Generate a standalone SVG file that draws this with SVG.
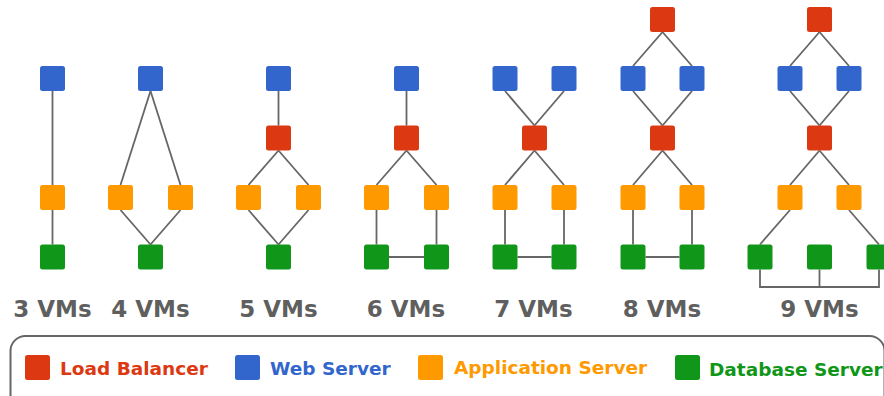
<svg xmlns="http://www.w3.org/2000/svg" width="884" height="396" viewBox="0 0 884 396">
<defs>
<style>
.lb{fill:#dc3912}.ws{fill:#3366cc}.as{fill:#ff9900}.db{fill:#109618}
.e{stroke:#666;stroke-width:1.8;fill:none}
.cap{font-family:"DejaVu Sans",sans-serif;font-weight:bold;font-size:23px;fill:#5f5f5f;text-anchor:middle}
.lg{font-family:"DejaVu Sans",sans-serif;font-weight:bold;font-size:18.5px}
</style>
<rect id="sq" width="25" height="25" rx="2.5"/>
</defs>
<rect width="884" height="396" fill="#fff"/>
<g id="connectors" class="e">
<line x1="52.5" y1="91" x2="52.5" y2="185"/>
<line x1="52.5" y1="210" x2="52.5" y2="244.5"/>
<line x1="150.5" y1="91" x2="120.5" y2="185"/>
<line x1="150.5" y1="91" x2="180.5" y2="185"/>
<line x1="120.5" y1="210" x2="150.5" y2="244.5"/>
<line x1="180.5" y1="210" x2="150.5" y2="244.5"/>
<line x1="278.5" y1="91" x2="278.5" y2="125.5"/>
<line x1="278.5" y1="150.5" x2="248.5" y2="185"/>
<line x1="278.5" y1="150.5" x2="308.5" y2="185"/>
<line x1="248.5" y1="210" x2="278.5" y2="244.5"/>
<line x1="308.5" y1="210" x2="278.5" y2="244.5"/>
<line x1="406.5" y1="91" x2="406.5" y2="125.5"/>
<line x1="406.5" y1="150.5" x2="376.5" y2="185"/>
<line x1="406.5" y1="150.5" x2="436.5" y2="185"/>
<line x1="376.5" y1="210" x2="376.5" y2="244.5"/>
<line x1="436.5" y1="210" x2="436.5" y2="244.5"/>
<line x1="389" y1="257" x2="424" y2="257"/>
<line x1="505" y1="91" x2="534.5" y2="125.5"/>
<line x1="564" y1="91" x2="534.5" y2="125.5"/>
<line x1="534.5" y1="150.5" x2="505" y2="185"/>
<line x1="534.5" y1="150.5" x2="564" y2="185"/>
<line x1="505" y1="210" x2="505" y2="244.5"/>
<line x1="564" y1="210" x2="564" y2="244.5"/>
<line x1="517.5" y1="257" x2="551.5" y2="257"/>
<line x1="662.5" y1="32" x2="633" y2="66"/>
<line x1="662.5" y1="32" x2="692" y2="66"/>
<line x1="633" y1="91" x2="662.5" y2="125.5"/>
<line x1="692" y1="91" x2="662.5" y2="125.5"/>
<line x1="662.5" y1="150.5" x2="633" y2="185"/>
<line x1="662.5" y1="150.5" x2="692" y2="185"/>
<line x1="633" y1="210" x2="633" y2="244.5"/>
<line x1="692" y1="210" x2="692" y2="244.5"/>
<line x1="645.5" y1="257" x2="679.5" y2="257"/>
<line x1="819.5" y1="32" x2="790" y2="66"/>
<line x1="819.5" y1="32" x2="849" y2="66"/>
<line x1="790" y1="91" x2="819.5" y2="125.5"/>
<line x1="849" y1="91" x2="819.5" y2="125.5"/>
<line x1="819.5" y1="150.5" x2="790" y2="185"/>
<line x1="819.5" y1="150.5" x2="849" y2="185"/>
<line x1="790" y1="210" x2="760" y2="244.5"/>
<line x1="849" y1="210" x2="879" y2="244.5"/>
<path d="M760 269.5V287H879V269.5M819.5 269.5V287"/>
</g>
<g id="vm3">
<use href="#sq" class="ws" x="40" y="66"/>
<use href="#sq" class="as" x="40" y="185"/>
<use href="#sq" class="db" x="40" y="244.5"/>
<text class="cap" x="52.5" y="317">3 VMs</text>
</g>
<g id="vm4">
<use href="#sq" class="ws" x="138" y="66"/>
<use href="#sq" class="as" x="108" y="185"/>
<use href="#sq" class="as" x="168" y="185"/>
<use href="#sq" class="db" x="138" y="244.5"/>
<text class="cap" x="150.5" y="317">4 VMs</text>
</g>
<g id="vm5">
<use href="#sq" class="ws" x="266" y="66"/>
<use href="#sq" class="lb" x="266" y="125.5"/>
<use href="#sq" class="as" x="236" y="185"/>
<use href="#sq" class="as" x="296" y="185"/>
<use href="#sq" class="db" x="266" y="244.5"/>
<text class="cap" x="278.5" y="317">5 VMs</text>
</g>
<g id="vm6">
<use href="#sq" class="ws" x="394" y="66"/>
<use href="#sq" class="lb" x="394" y="125.5"/>
<use href="#sq" class="as" x="364" y="185"/>
<use href="#sq" class="as" x="424" y="185"/>
<use href="#sq" class="db" x="364" y="244.5"/>
<use href="#sq" class="db" x="424" y="244.5"/>
<text class="cap" x="406" y="317">6 VMs</text>
</g>
<g id="vm7">
<use href="#sq" class="ws" x="492.5" y="66"/>
<use href="#sq" class="ws" x="551.5" y="66"/>
<use href="#sq" class="lb" x="522" y="125.5"/>
<use href="#sq" class="as" x="492.5" y="185"/>
<use href="#sq" class="as" x="551.5" y="185"/>
<use href="#sq" class="db" x="492.5" y="244.5"/>
<use href="#sq" class="db" x="551.5" y="244.5"/>
<text class="cap" x="533.5" y="317">7 VMs</text>
</g>
<g id="vm8">
<use href="#sq" class="lb" x="650" y="7"/>
<use href="#sq" class="ws" x="620.5" y="66"/>
<use href="#sq" class="ws" x="679.5" y="66"/>
<use href="#sq" class="lb" x="650" y="125.5"/>
<use href="#sq" class="as" x="620.5" y="185"/>
<use href="#sq" class="as" x="679.5" y="185"/>
<use href="#sq" class="db" x="620.5" y="244.5"/>
<use href="#sq" class="db" x="679.5" y="244.5"/>
<text class="cap" x="662" y="317">8 VMs</text>
</g>
<g id="vm9">
<use href="#sq" class="lb" x="807" y="7"/>
<use href="#sq" class="ws" x="777.5" y="66"/>
<use href="#sq" class="ws" x="836.5" y="66"/>
<use href="#sq" class="lb" x="807" y="125.5"/>
<use href="#sq" class="as" x="777.5" y="185"/>
<use href="#sq" class="as" x="836.5" y="185"/>
<use href="#sq" class="db" x="747.5" y="244.5"/>
<use href="#sq" class="db" x="807" y="244.5"/>
<use href="#sq" class="db" x="866.5" y="244.5"/>
<text class="cap" x="819.5" y="317">9 VMs</text>
</g>
<g id="legend">
<rect x="10.5" y="336" width="874" height="80" rx="15" fill="none" stroke="#666" stroke-width="2"/>
<use href="#sq" class="lb" x="25" y="355"/>
<text class="lg" x="60" y="374.5" fill="#dc3912">Load Balancer</text>
<use href="#sq" class="ws" x="235" y="355"/>
<text class="lg" x="270" y="374.5" fill="#3366cc">Web Server</text>
<use href="#sq" class="as" x="418" y="355"/>
<text class="lg" x="454" y="373.5" fill="#ff9900">Application Server</text>
<use href="#sq" class="db" x="675" y="355"/>
<text class="lg" x="709" y="375.5" fill="#109618">Database Server</text>
</g>
</svg>
